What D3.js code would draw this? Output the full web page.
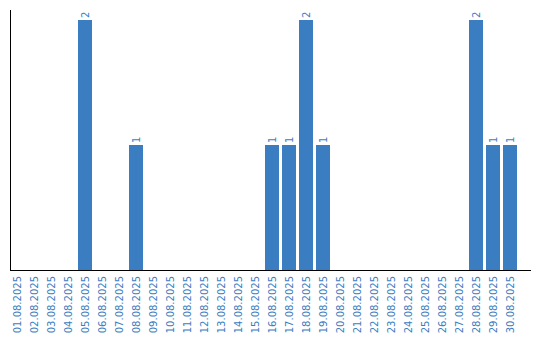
<!DOCTYPE html>
<html><head><meta charset="utf-8">
<script src="https://cdn.jsdelivr.net/npm/d3@7"></script>
<style>body{margin:0;background:#fff}svg{display:block}</style>
</head><body><svg id="c" width="540" height="340"></svg>
<script>
const categories = ["01.08.2025","02.08.2025","03.08.2025","04.08.2025","05.08.2025","06.08.2025","07.08.2025","08.08.2025","09.08.2025","10.08.2025","11.08.2025","12.08.2025","13.08.2025","14.08.2025","15.08.2025","16.08.2025","17.08.2025","18.08.2025","19.08.2025","20.08.2025","21.08.2025","22.08.2025","23.08.2025","24.08.2025","25.08.2025","26.08.2025","27.08.2025","28.08.2025","29.08.2025","30.08.2025"];
const values = [0,0,0,0,2,0,0,1,0,0,0,0,0,0,0,1,1,2,1,0,0,0,0,0,0,0,0,2,1,1];

const color = "#3b7dc1";
const svg = d3.select("#c");
const x = d3.scaleBand().domain(categories).range([10, 517]).paddingInner(3/17).paddingOuter(0);
const y = d3.scaleLinear().domain([0, 2]).range([270, 20]);
const data = values.map((v,i)=>({v, c:categories[i]})).filter(d => d.v > 0);

svg.selectAll("rect.bar").data(data).join("rect").attr("class","bar")
  .attr("x", d => x(d.c))
  .attr("y", d => y(d.v))
  .attr("width", x.bandwidth())
  .attr("height", d => y(0) - y(d.v))
  .attr("fill", color);

svg.selectAll("text.val").data(data).join("text").attr("class","val")
  .attr("transform", d => `translate(${x(d.c)+x.bandwidth()/2+3.5},${y(d.v)-2}) rotate(-90)`)
  .attr("text-anchor","start")
  .attr("font-family","DejaVu Sans, Verdana, sans-serif").attr("font-size","10px")
  .attr("fill", color).text(d => d.v);

svg.append("line").attr("x1",10.5).attr("x2",10.5).attr("y1",10).attr("y2",270.5).attr("stroke","#000");
svg.append("line").attr("x1",10).attr("x2",531).attr("y1",270.5).attr("y2",270.5).attr("stroke","#000");

const xa = svg.append("g").attr("transform","translate(0,271)")
  .call(d3.axisBottom(x).tickSize(0).tickPadding(0));
xa.select(".domain").remove();
xa.selectAll("text")
  .attr("font-family","DejaVu Sans, Verdana, sans-serif").attr("font-size","10px")
  .attr("fill", color)
  .attr("text-anchor","end")
  .attr("dy","0.35em")
  .attr("transform","translate(0,5) rotate(-90)")
  .attr("x",0).attr("y",0);
</script></body></html>
